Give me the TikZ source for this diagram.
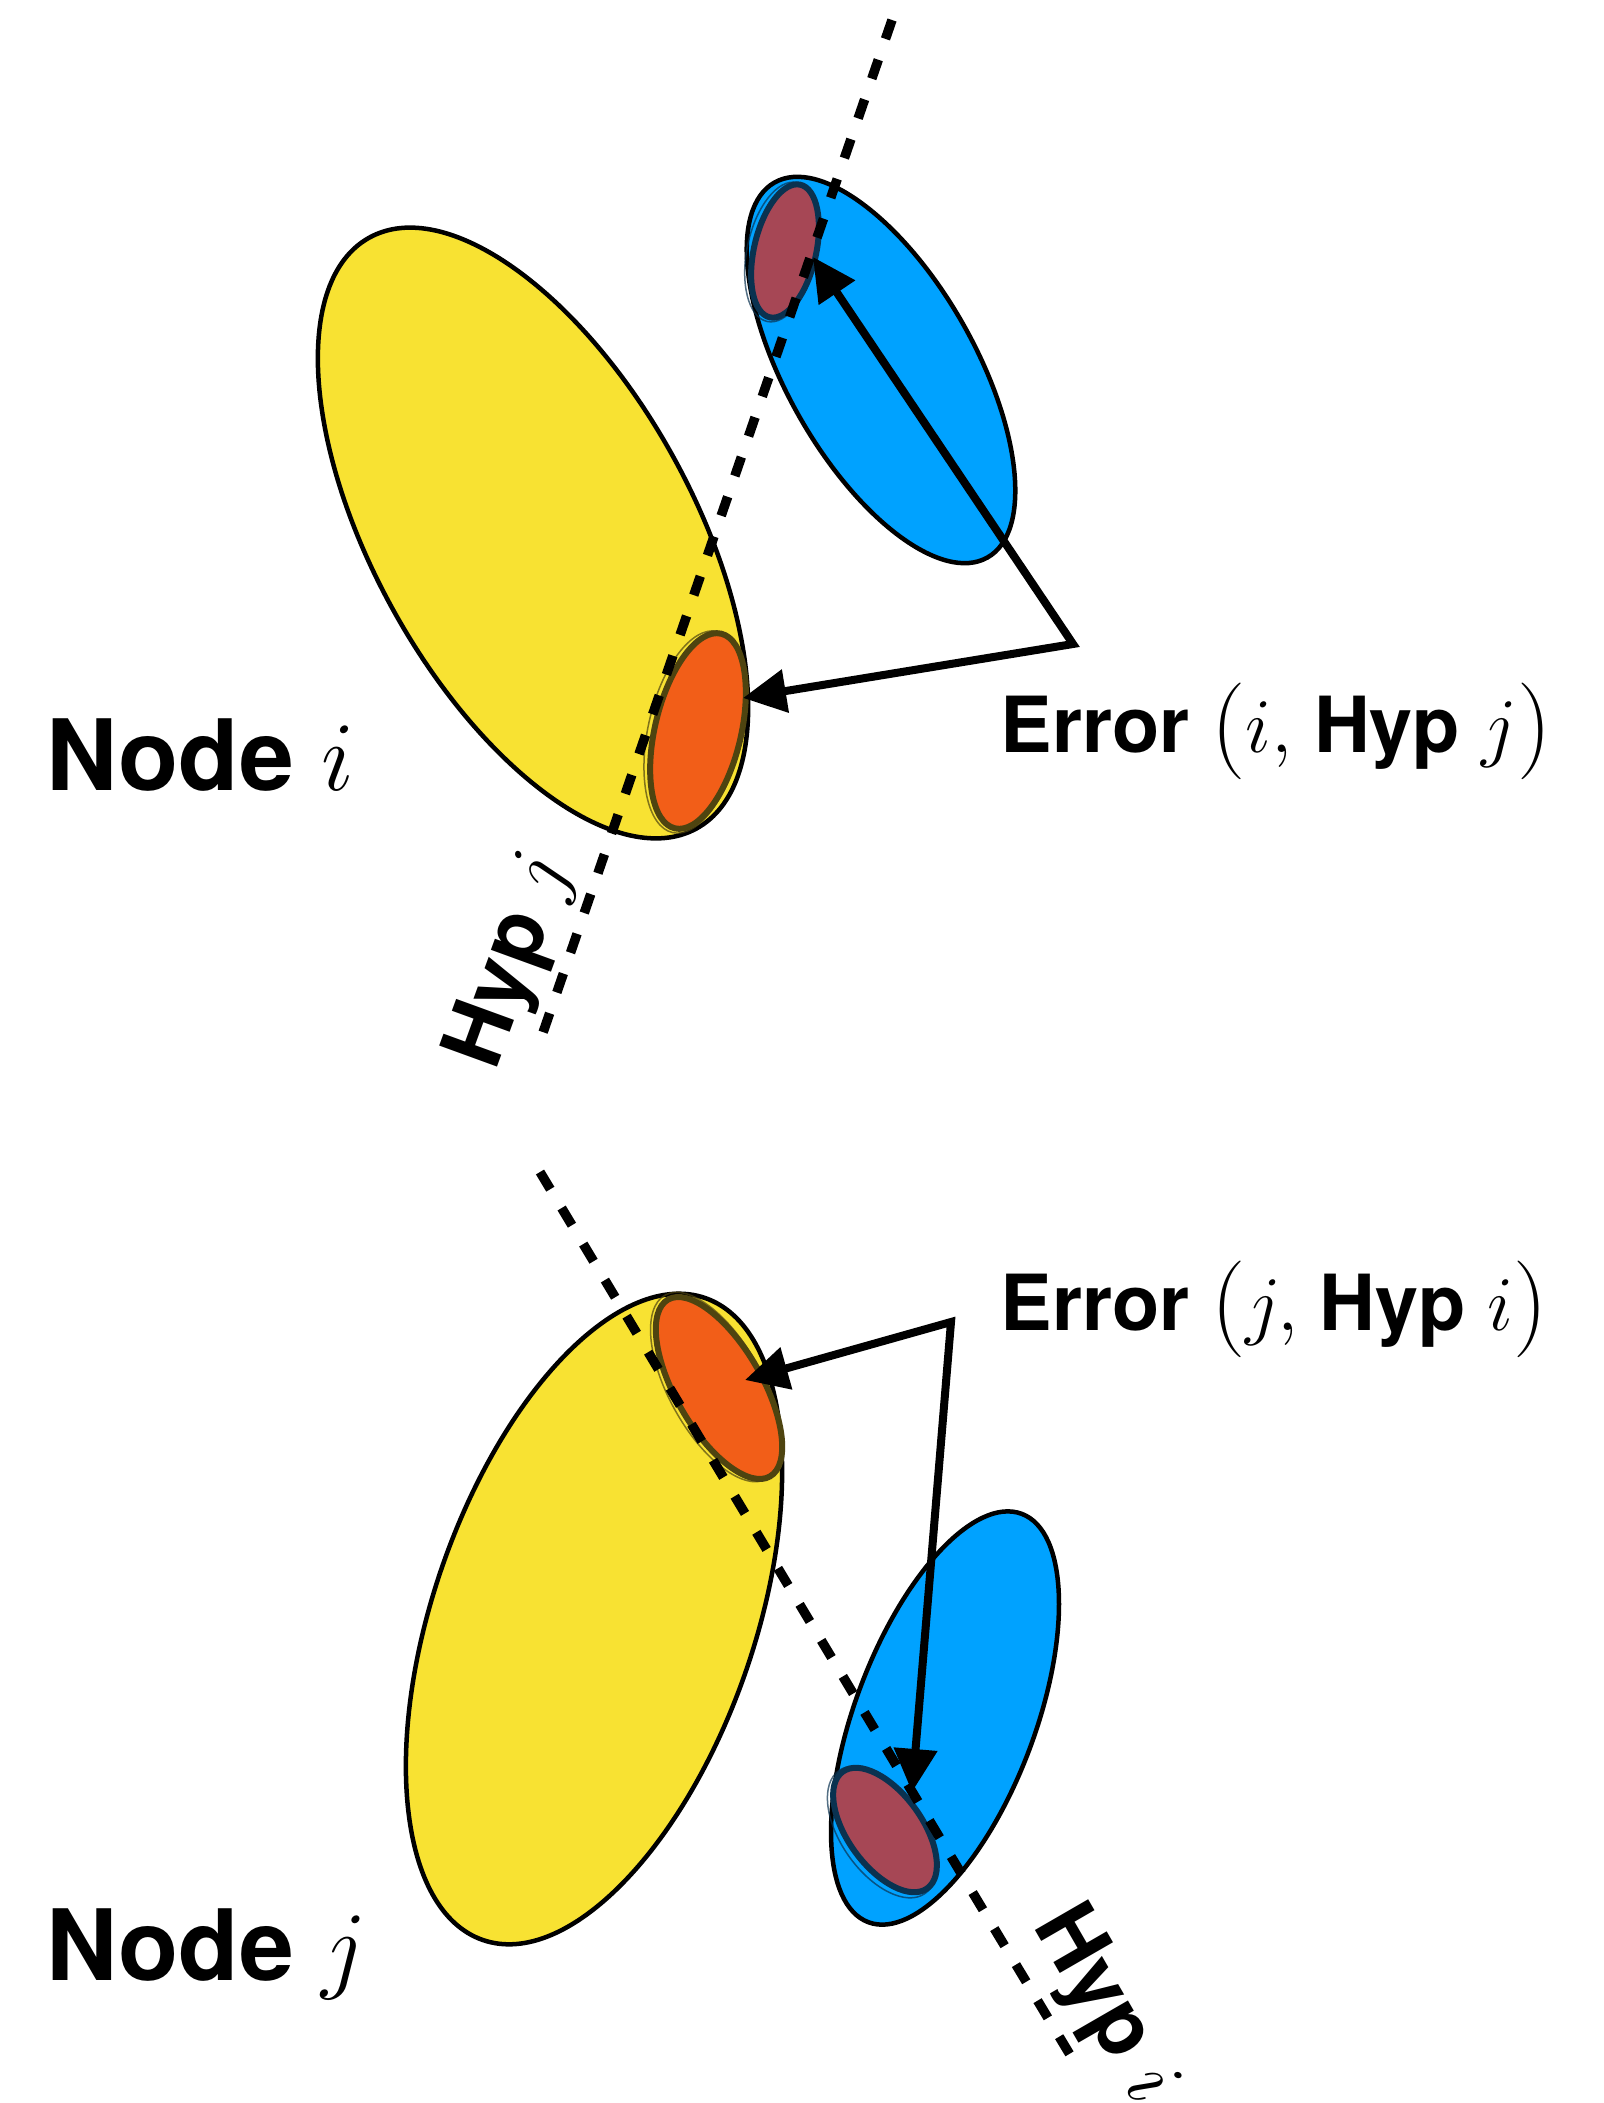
\documentclass[tikz,border=0pt]{standalone}
\usepackage{fix-cm}
\usepackage{fontspec}
\setsansfont{TeX Gyre Heros}
\usetikzlibrary{shapes.geometric,arrows.meta}

\definecolor{blobyellow}{RGB}{248,226,50}
\definecolor{blobblue}{RGB}{0,162,255}
\definecolor{hitorange}{RGB}{242,94,24}
\definecolor{hitmaroon}{RGB}{166,71,85}
\definecolor{rimolive}{RGB}{78,68,16}
\definecolor{rimnavy}{RGB}{10,50,80}

% tall upright parentheses for the error labels
\newcommand{\errlp}{{\normalfont\fontsize{27.5}{27.5}\selectfont\raisebox{-1pt}{(}}}
\newcommand{\errrp}{{\normalfont\fontsize{27.5}{27.5}\selectfont\raisebox{-1pt}{)}}}

\begin{document}
\begin{tikzpicture}[x=0.01cm,y=0.01cm,
  bigblob/.style={ellipse, draw=black, line width=0.045cm, inner sep=0pt},
  hitblob/.style={ellipse, line width=0.06cm, inner sep=0pt},
  hitrim/.style={ellipse, line width=0.015cm, inner sep=0pt, draw opacity=0.7},
  hypline/.style={line width=0.095cm, dash pattern=on 0.2cm off 0.22cm},
  errarrow/.style={line width=0.08cm, line join=miter,
    {Triangle[length=0.43cm,width=0.42cm]}-{Triangle[length=0.43cm,width=0.42cm]}},
  nodelabel/.style={inner sep=0pt, anchor=base west,
    font=\fontsize{28}{34}\selectfont\sffamily\bfseries},
  errlabel/.style={inner sep=0pt, anchor=base west,
    font=\fontsize{22}{27}\selectfont\sffamily\bfseries},
  hyplabel/.style={inner sep=0pt, anchor=base west,
    font=\fontsize{24}{29}\selectfont\sffamily\bfseries}]

\useasboundingbox (0,0) rectangle (1604,-2103);
\fill[white] (0,0) rectangle (1604,-2103);

% ---- upper pair: node i with hypothesis j ----
\node[bigblob, fill=blobyellow, minimum width=6.75cm, minimum height=3.19cm,
      rotate=-61] (yi) at (533,-533) {};
\node[bigblob, fill=blobblue, minimum width=4.31cm, minimum height=1.88cm,
      rotate=-60.4] (bi) at (881,-370) {};
\node[hitblob, fill=hitmaroon, draw=rimnavy, minimum width=1.36cm,
      minimum height=0.62cm, rotate=77] (mi) at (785,-251) {};
\node[hitrim, draw=rimnavy, minimum width=1.42cm, minimum height=0.70cm,
      rotate=78] (mir) at (782,-252) {};
\node[hitblob, fill=hitorange, draw=rimolive, minimum width=2.0cm,
      minimum height=0.86cm, rotate=76.6] (oi) at (698,-731) {};
\node[hitrim, draw=rimolive, minimum width=2.06cm, minimum height=0.94cm,
      rotate=77.5] (oir) at (695,-732) {};

\coordinate (hj1) at (892,-20);
\coordinate (hj2) at (537,-1050);
\draw[hypline] (hj1) -- (hj2);

\coordinate (ci) at (1073,-644);
\coordinate (ti1) at (813,-257);
\coordinate (ti2) at (743,-698);
\draw[errarrow] (ti1) -- (ci) -- (ti2);

\node[nodelabel] (li) at (46,-790) {Node $i$};
\node[errlabel] (ei) at (1000,-752) {Error \errlp$i,$ Hyp $j$\errrp};
\node[hyplabel, rotate=70] (hj) at (495,-1073) {Hyp $j$};

% ---- lower pair: node j with hypothesis i ----
\node[bigblob, fill=blobyellow, minimum width=6.79cm, minimum height=3.21cm,
      rotate=70.9] (yj) at (594,-1619) {};
\node[bigblob, fill=blobblue, minimum width=4.36cm, minimum height=1.80cm,
      rotate=69.4] (bj) at (945,-1718) {};
\node[hitblob, fill=hitorange, draw=rimolive, minimum width=2.04cm,
      minimum height=0.86cm, rotate=-60] (oj) at (719,-1388) {};
\node[hitrim, draw=rimolive, minimum width=2.10cm, minimum height=0.94cm,
      rotate=-61] (ojr) at (716,-1387) {};
\node[hitblob, fill=hitmaroon, draw=rimnavy, minimum width=1.44cm,
      minimum height=0.74cm, rotate=-54] (mj) at (885,-1830) {};
\node[hitrim, draw=rimnavy, minimum width=1.50cm, minimum height=0.82cm,
      rotate=-55] (mjr) at (882,-1832) {};

\coordinate (hi1) at (540,-1172);
\coordinate (hi2) at (1078,-2068);
\draw[hypline] (hi1) -- (hi2);

\coordinate (cj) at (951,-1322);
\coordinate (tj1) at (745,-1380);
\coordinate (tj2) at (912,-1792);
\draw[errarrow] (tj1) -- (cj) -- (tj2);

\node[nodelabel] (lj) at (46,-1980) {Node $j$};
\node[errlabel] (ej) at (1000,-1330) {Error \errlp$j,$ Hyp $i$\errrp};
\node[hyplabel, rotate=-60] (hi) at (1032,-1925) {Hyp $i$};
\end{tikzpicture}
\end{document}
